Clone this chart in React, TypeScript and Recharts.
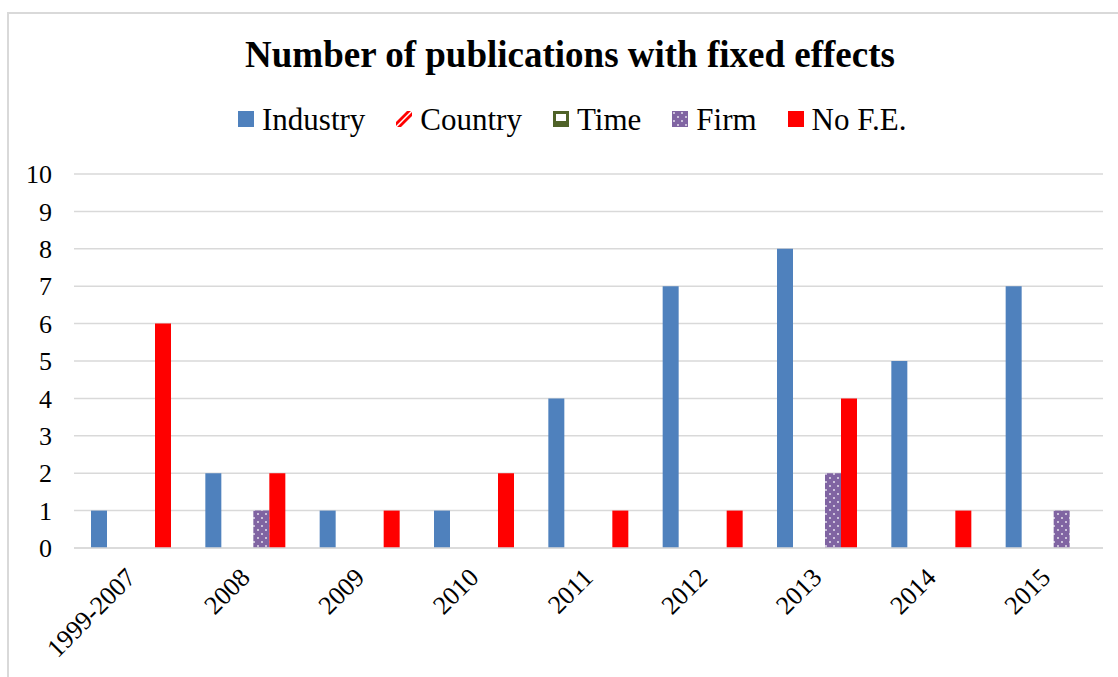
import React from 'react'
import { BarChart, Bar, XAxis, YAxis, CartesianGrid } from 'recharts'

const categories = ['1999-2007', '2008', '2009', '2010', '2011', '2012', '2013', '2014', '2015']
const industry = [1, 2, 1, 1, 4, 7, 8, 5, 7]
const country = [0, 0, 0, 0, 0, 0, 0, 0, 0]
const time = [0, 0, 0, 0, 0, 0, 0, 0, 0]
const firm = [0, 1, 0, 0, 0, 0, 2, 0, 1]
const noFE = [6, 2, 1, 2, 1, 1, 4, 1, 0]
const yTicks = [0, 1, 2, 3, 4, 5, 6, 7, 8, 9, 10]

const data = categories.map((name, i) => ({
    name,
    industry: industry[i],
    country: country[i],
    time: time[i],
    firm: firm[i],
    noFE: noFE[i]
}))

const FONT = '"Liberation Serif", "Times New Roman", serif'
const GRID = '#d9d9d9'

const series = [
    { key: 'industry', label: 'Industry', fill: '#4f81bd', icon: 'solid' },
    { key: 'country', label: 'Country', fill: 'url(#stripes)', icon: 'stripes' },
    { key: 'time', label: 'Time', fill: '#4f6228', icon: 'time' },
    { key: 'firm', label: 'Firm', fill: 'url(#dots)', icon: 'dots' },
    { key: 'noFE', label: 'No F.E.', fill: '#ff0000', icon: 'solid' }
]

const Patterns = () => (
    <svg width={0} height={0} style={{ position: 'absolute' }}>
        <defs>
            <pattern id="dots" width="8" height="8" patternUnits="userSpaceOnUse">
                <rect width="8" height="8" fill="#8064a2" />
                <circle cx="2" cy="2" r="1" fill="#ffffff" opacity={0.8} />
                <circle cx="6" cy="6" r="1" fill="#ffffff" opacity={0.8} />
            </pattern>
            <pattern id="stripes" width="6" height="6" patternUnits="userSpaceOnUse" patternTransform="rotate(45)">
                <rect width="6" height="6" fill="#ffffff" />
                <rect width="3" height="6" fill="#ff0000" />
            </pattern>
        </defs>
    </svg>
)

const LegendIcon = ({ kind, fill }: { kind: string; fill: string }) => {
    if (kind === 'time') {
        return (
            <svg width={16} height={16}>
                <rect x={0} y={0} width={16} height={16} fill="#4f6228" />
                <rect x={3} y={3} width={10} height={7} fill="#ffffff" />
            </svg>
        )
    }
    if (kind === 'stripes') {
        return (
            <svg width={16} height={16}>
                <rect x={0} y={0} width={16} height={16} fill="#ffffff" />
                <polygon points="0,16 5,16 16,5 16,0 11,0 0,11" fill="#ff0000" />
                <line x1={0} y1={16} x2={16} y2={0} stroke="#ffffff" strokeWidth={1.5} />
            </svg>
        )
    }
    return (
        <svg width={16} height={16}>
            <rect x={0} y={0} width={16} height={16} fill={fill} />
        </svg>
    )
}

const XTick = (props: any) => {
    const { x, y, payload } = props
    return (
        <g transform={`translate(${x + 6},${y + 31})`}>
            <text textAnchor="end" transform="rotate(-45)" fontSize={26} fontFamily={FONT} fill="#000">
                {payload.value}
            </text>
        </g>
    )
}

export default function App() {
    return (
        <div style={{ position: 'absolute', left: 0, top: 0, width: 1118, height: 677, overflow: 'hidden', background: '#fff' }}>
            <Patterns />
            <div
                style={{
                    position: 'absolute',
                    left: 7,
                    top: 12,
                    width: 1111,
                    height: 665,
                    boxSizing: 'border-box',
                    borderTop: `2px solid ${GRID}`,
                    borderLeft: `2px solid ${GRID}`
                }}
            />
            <div
                style={{
                    position: 'absolute',
                    left: 70,
                    top: 36,
                    width: 1000,
                    textAlign: 'center',
                    fontFamily: FONT,
                    fontWeight: 'bold',
                    fontSize: 37,
                    lineHeight: 1,
                    color: '#000'
                }}
            >
                Number of publications with fixed effects
            </div>
            <div
                style={{
                    position: 'absolute',
                    left: 238,
                    top: 101,
                    height: 36,
                    display: 'flex',
                    alignItems: 'center',
                    gap: 31,
                    fontFamily: FONT,
                    fontSize: 31,
                    lineHeight: 1,
                    color: '#000',
                    whiteSpace: 'nowrap'
                }}
            >
                {series.map((s) => (
                    <div key={s.key} style={{ display: 'flex', alignItems: 'center', gap: 8 }}>
                        <LegendIcon kind={s.icon} fill={s.fill} />
                        <span>{s.label}</span>
                    </div>
                ))}
            </div>
            <div style={{ position: 'absolute', left: 0, top: 0 }}>
                <BarChart
                    width={1118}
                    height={677}
                    data={data}
                    margin={{ top: 174, right: 15, left: 0, bottom: 0 }}
                    barSize={16}
                    barGap={0}
                >
                    <CartesianGrid vertical={false} stroke={GRID} strokeWidth={1.5} />
                    <XAxis
                        dataKey="name"
                        height={129}
                        tick={<XTick />}
                        tickLine={false}
                        tickSize={0}
                        tickMargin={0}
                        axisLine={{ stroke: GRID, strokeWidth: 1.5 }}
                        interval={0}
                    />
                    <YAxis
                        width={74}
                        domain={[0, 10]}
                        ticks={yTicks}
                        interval={0}
                        axisLine={false}
                        tickLine={false}
                        tickSize={0}
                        tickMargin={22}
                        tick={{ fontSize: 26, fontFamily: FONT, fill: '#000' }}
                    />
                    {series.map((s) => (
                        <Bar key={s.key} dataKey={s.key} name={s.label} fill={s.fill} isAnimationActive={false} />
                    ))}
                </BarChart>
            </div>
        </div>
    )
}
